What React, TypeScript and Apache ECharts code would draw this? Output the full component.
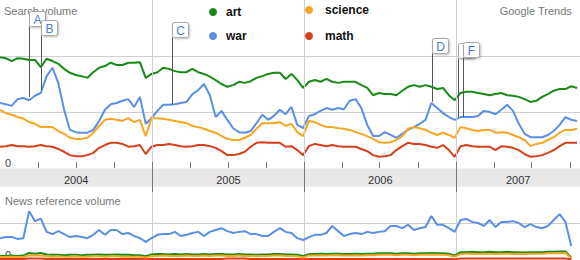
import React, { useEffect, useRef } from 'react';
import * as echarts from 'echarts';

const DAY = 86400000;
const START = Date.UTC(2004, 0, 1);
const END_DATE = '2007-10-25';
const STEP_DAYS = 14;
const FONT = 'Arial, "Liberation Sans", Helvetica, sans-serif';

const seriesNames = ['art', 'war', 'science', 'math'];
const seriesColors = ['#178a17', '#5b8ee6', '#f6a623', '#d4401b'];

// Search volume (relative units, gridlines at 1 and 2)
const searchArt = [
  1.98, 1.96, 1.91, 1.96, 1.95, 1.93, 1.93, 1.80, 1.95, 1.91,
  1.86, 1.77, 1.70, 1.66, 1.64, 1.61, 1.71, 1.79, 1.82, 1.88,
  1.84, 1.84, 1.88, 1.88, 1.89, 1.61, 1.68, 1.71, 1.79, 1.77,
  1.73, 1.71, 1.71, 1.77, 1.71, 1.68, 1.63, 1.57, 1.50, 1.45,
  1.48, 1.54, 1.52, 1.55, 1.61, 1.64, 1.68, 1.70, 1.70, 1.59,
  1.68, 1.57, 1.43, 1.54, 1.57, 1.54, 1.59, 1.54, 1.52, 1.54,
  1.54, 1.54, 1.48, 1.43, 1.30, 1.34, 1.32, 1.32, 1.30, 1.38,
  1.45, 1.48, 1.45, 1.48, 1.45, 1.41, 1.43, 1.30, 1.21, 1.34,
  1.36, 1.36, 1.34, 1.32, 1.30, 1.32, 1.34, 1.30, 1.29, 1.27,
  1.23, 1.18, 1.20, 1.27, 1.32, 1.38, 1.41, 1.41, 1.46, 1.43,
];
const searchWar = [
  1.16, 1.14, 1.11, 1.23, 1.25, 1.21, 1.29, 1.34, 1.64, 1.79,
  1.52, 1.04, 0.68, 0.64, 0.63, 0.63, 0.68, 0.84, 1.04, 1.14,
  1.16, 1.20, 1.23, 1.09, 1.27, 0.79, 0.89, 1.02, 1.13, 1.13,
  1.14, 1.16, 1.18, 1.32, 1.39, 1.50, 1.30, 0.91, 1.02, 0.86,
  0.71, 0.64, 0.63, 0.66, 0.80, 0.95, 0.86, 0.93, 1.04, 0.96,
  1.09, 0.77, 0.71, 0.93, 0.96, 1.02, 1.07, 1.04, 1.07, 1.05,
  1.20, 1.23, 1.07, 0.77, 0.57, 0.57, 0.64, 0.59, 0.54, 0.61,
  0.68, 0.73, 0.79, 0.86, 1.16, 1.07, 0.98, 0.91, 0.86, 0.91,
  0.91, 0.91, 0.93, 1.02, 1.00, 0.96, 1.04, 1.13, 1.02, 0.79,
  0.61, 0.55, 0.55, 0.55, 0.59, 0.66, 0.77, 0.91, 0.86, 0.84,
];
const searchScience = [
  1.04, 0.98, 0.95, 0.91, 0.88, 0.82, 0.79, 0.73, 0.73, 0.73,
  0.66, 0.61, 0.54, 0.52, 0.52, 0.54, 0.63, 0.75, 0.86, 0.88,
  0.86, 0.84, 0.89, 0.82, 0.86, 0.57, 0.89, 0.89, 0.88, 0.86,
  0.84, 0.82, 0.80, 0.75, 0.73, 0.70, 0.66, 0.63, 0.57, 0.52,
  0.50, 0.50, 0.54, 0.59, 0.70, 0.80, 0.80, 0.80, 0.82, 0.75,
  0.79, 0.64, 0.57, 0.84, 0.82, 0.77, 0.73, 0.73, 0.71, 0.70,
  0.68, 0.64, 0.61, 0.57, 0.52, 0.46, 0.45, 0.46, 0.50, 0.57,
  0.70, 0.73, 0.71, 0.68, 0.63, 0.59, 0.63, 0.59, 0.54, 0.73,
  0.71, 0.68, 0.66, 0.68, 0.68, 0.63, 0.64, 0.63, 0.59, 0.55,
  0.50, 0.39, 0.43, 0.45, 0.50, 0.55, 0.63, 0.68, 0.68, 0.70,
];
const searchMath = [
  0.38, 0.39, 0.41, 0.39, 0.39, 0.38, 0.39, 0.41, 0.39, 0.38,
  0.34, 0.29, 0.23, 0.21, 0.21, 0.23, 0.27, 0.36, 0.41, 0.45,
  0.45, 0.43, 0.38, 0.39, 0.41, 0.25, 0.38, 0.41, 0.41, 0.43,
  0.41, 0.39, 0.38, 0.39, 0.41, 0.41, 0.39, 0.36, 0.30, 0.23,
  0.23, 0.25, 0.29, 0.38, 0.45, 0.46, 0.45, 0.45, 0.45, 0.38,
  0.39, 0.32, 0.23, 0.39, 0.43, 0.41, 0.39, 0.41, 0.39, 0.38,
  0.38, 0.38, 0.34, 0.30, 0.23, 0.20, 0.21, 0.23, 0.32, 0.39,
  0.45, 0.43, 0.43, 0.41, 0.38, 0.36, 0.41, 0.32, 0.20, 0.39,
  0.41, 0.39, 0.38, 0.38, 0.38, 0.32, 0.39, 0.38, 0.36, 0.32,
  0.25, 0.20, 0.21, 0.23, 0.27, 0.32, 0.39, 0.45, 0.45, 0.45,
];

// News reference volume (gridline at 1)
const newsArt = [
  0.11, 0.11, 0.12, 0.11, 0.12, 0.19, 0.17, 0.19, 0.15, 0.14,
  0.14, 0.13, 0.14, 0.14, 0.13, 0.14, 0.14, 0.15, 0.14, 0.14,
  0.15, 0.14, 0.14, 0.13, 0.13, 0.10, 0.15, 0.16, 0.16, 0.15,
  0.16, 0.15, 0.16, 0.15, 0.15, 0.16, 0.15, 0.16, 0.16, 0.15,
  0.15, 0.16, 0.15, 0.15, 0.14, 0.15, 0.15, 0.16, 0.16, 0.15,
  0.15, 0.14, 0.11, 0.16, 0.16, 0.17, 0.16, 0.17, 0.17, 0.16,
  0.16, 0.17, 0.16, 0.17, 0.17, 0.18, 0.18, 0.18, 0.17, 0.18,
  0.18, 0.17, 0.18, 0.18, 0.19, 0.18, 0.18, 0.17, 0.12, 0.21,
  0.21, 0.22, 0.21, 0.21, 0.22, 0.21, 0.21, 0.22, 0.21, 0.21,
  0.20, 0.21, 0.21, 0.21, 0.22, 0.22, 0.23, 0.23, 0.06,
];
const newsWar = [
  0.59, 0.62, 0.62, 0.57, 0.59, 1.32, 1.05, 1.12, 0.76, 0.70,
  0.78, 0.70, 0.62, 0.65, 0.62, 0.59, 0.68, 0.81, 0.68, 0.81,
  0.81, 0.70, 0.73, 0.65, 0.59, 0.49, 0.59, 0.68, 0.70, 0.70,
  0.76, 0.65, 0.68, 0.73, 0.76, 0.65, 0.76, 0.81, 0.86, 0.78,
  0.73, 0.76, 0.78, 0.70, 0.70, 0.65, 0.65, 0.76, 0.86, 0.76,
  0.73, 0.59, 0.54, 0.62, 0.68, 0.68, 0.73, 0.92, 0.78, 0.65,
  0.70, 0.73, 0.70, 0.76, 0.73, 0.76, 0.78, 0.92, 0.92, 0.86,
  0.95, 0.81, 0.86, 0.89, 1.19, 0.95, 0.95, 0.86, 0.76, 1.08,
  1.11, 1.03, 1.00, 0.92, 1.08, 0.89, 1.03, 1.03, 1.05, 1.00,
  0.89, 0.97, 0.89, 0.86, 0.92, 1.08, 1.24, 1.03, 0.38,
];
const newsScience = [
  0.08, 0.08, 0.09, 0.08, 0.08, 0.13, 0.12, 0.12, 0.10, 0.09,
  0.10, 0.09, 0.09, 0.10, 0.09, 0.09, 0.10, 0.10, 0.09, 0.10,
  0.10, 0.09, 0.09, 0.09, 0.09, 0.07, 0.11, 0.11, 0.12, 0.11,
  0.11, 0.11, 0.12, 0.11, 0.11, 0.12, 0.11, 0.12, 0.12, 0.11,
  0.11, 0.12, 0.11, 0.11, 0.10, 0.11, 0.11, 0.12, 0.12, 0.11,
  0.11, 0.10, 0.07, 0.12, 0.12, 0.13, 0.12, 0.13, 0.13, 0.12,
  0.12, 0.13, 0.12, 0.13, 0.13, 0.14, 0.14, 0.14, 0.13, 0.14,
  0.14, 0.13, 0.14, 0.14, 0.15, 0.14, 0.14, 0.13, 0.09, 0.16,
  0.17, 0.17, 0.16, 0.17, 0.17, 0.16, 0.17, 0.17, 0.16, 0.17,
  0.16, 0.17, 0.17, 0.17, 0.18, 0.18, 0.18, 0.19, 0.04,
];
const newsMath = [
  0.03, 0.03, 0.03, 0.03, 0.03, 0.04, 0.04, 0.04, 0.03, 0.03,
  0.03, 0.03, 0.03, 0.03, 0.03, 0.03, 0.03, 0.03, 0.03, 0.03,
  0.03, 0.03, 0.03, 0.03, 0.03, 0.02, 0.03, 0.03, 0.03, 0.03,
  0.03, 0.03, 0.03, 0.03, 0.03, 0.03, 0.03, 0.03, 0.03, 0.04,
  0.04, 0.04, 0.04, 0.03, 0.03, 0.03, 0.03, 0.03, 0.03, 0.03,
  0.03, 0.03, 0.02, 0.03, 0.03, 0.03, 0.03, 0.03, 0.03, 0.03,
  0.03, 0.03, 0.03, 0.03, 0.03, 0.03, 0.03, 0.03, 0.03, 0.03,
  0.03, 0.03, 0.03, 0.03, 0.03, 0.03, 0.03, 0.03, 0.02, 0.04,
  0.04, 0.04, 0.04, 0.04, 0.04, 0.04, 0.04, 0.04, 0.04, 0.04,
  0.04, 0.04, 0.04, 0.04, 0.04, 0.04, 0.04, 0.04, 0.02,
];

const yearLabels = ['2004', '2005', '2006', '2007'];
const yearStarts = ['2004-01-01', '2005-01-01', '2006-01-01', '2007-01-01'];
const quarterTicks = [
  '2004-04-01', '2004-07-01', '2004-10-01', '2005-01-01',
  '2005-04-01', '2005-07-01', '2005-10-01', '2006-01-01',
  '2006-04-01', '2006-07-01', '2006-10-01', '2007-01-01',
  '2007-04-01', '2007-07-01', '2007-10-01',
];

const flagLetters = ['A', 'B', 'C', 'D', 'E', 'F'];
const flagDates = ['2004-03-11', '2004-04-08', '2005-02-17', '2006-11-04', '2007-01-05', '2007-01-17'];
const flagPointValues = [1.27, 1.39, 1.13, 1.18, 0.91, 0.91];
const flagBoxTops = [2.8, 2.64, 2.61, 2.32, 2.23, 2.25];

// days since 2004-01-01
const toDay = (s: string) => Math.round((Date.parse(s + 'T00:00:00Z') - START) / DAY);

export default function App() {
  const ref = useRef<HTMLDivElement>(null);

  useEffect(() => {
    if (!ref.current) return;
    const chart = echarts.init(ref.current, undefined, { renderer: 'svg' });

    const END = toDay(END_DATE);
    const sampleDays = searchArt.map((_, i) => i * STEP_DAYS);
    const searchData = [searchArt, searchWar, searchScience, searchMath];
    const newsData = [newsArt, newsWar, newsScience, newsMath];

    const yearStartDays = yearStarts.map(toDay);
    const yearMid = yearStartDays.map((s, i) => {
      const e = i + 1 < yearStartDays.length ? yearStartDays[i + 1] : END;
      return (s + e) / 2;
    });
    const yearBounds = yearStartDays.slice(1);
    const quarterDays = quarterTicks.map(toDay);

    const axisText = { fontFamily: FONT, fontSize: 11 };

    const lineSeries: any[] = [];
    seriesNames.forEach((name, k) => {
      lineSeries.push({
        name,
        type: 'line',
        xAxisIndex: 1,
        yAxisIndex: 0,
        data: searchData[k].map((v, i) => [sampleDays[i], v]),
        showSymbol: false,
        symbol: 'none',
        color: seriesColors[k],
        lineStyle: { width: 2, color: seriesColors[k] },
        z: 2,
      });
    });
    [0, 2, 3, 1].forEach((k) => {
      lineSeries.push({
        name: seriesNames[k],
        type: 'line',
        xAxisIndex: 2,
        yAxisIndex: 1,
        data: newsData[k].map((v, i) => [sampleDays[i], v]),
        showSymbol: false,
        symbol: 'none',
        color: seriesColors[k],
        lineStyle: { width: 2, color: seriesColors[k] },
        z: 2,
      });
    });

    const flagSeries = {
      type: 'custom',
      xAxisIndex: 1,
      yAxisIndex: 0,
      z: 10,
      silent: true,
      encode: { x: 0, y: [1, 2] },
      data: flagDates.map((d, i) => [toDay(d), flagPointValues[i], flagBoxTops[i]]),
      renderItem: (params: any, api: any) => {
        const x = api.value(0);
        const bottom = api.coord([x, api.value(1)]);
        const top = api.coord([x, api.value(2)]);
        const bx = Math.round(top[0]) + 0.5;
        const by = Math.round(top[1]) + 0.5;
        return {
          type: 'group',
          children: [
            {
              type: 'line',
              shape: { x1: bx, y1: by + 15, x2: bx, y2: bottom[1] },
              style: { stroke: '#555', lineWidth: 1 },
            },
            {
              type: 'rect',
              shape: { x: bx, y: by, width: 16, height: 15, r: 2 },
              style: {
                fill: '#fff',
                stroke: '#a8a8a8',
                lineWidth: 1,
                shadowBlur: 2,
                shadowOffsetX: 1,
                shadowOffsetY: 1,
                shadowColor: 'rgba(0,0,0,0.25)',
              },
            },
            {
              type: 'text',
              style: {
                text: flagLetters[params.dataIndex],
                x: bx + 8,
                y: by + 8,
                align: 'center',
                verticalAlign: 'middle',
                fill: '#4a7bd6',
                font: '12px ' + FONT,
              },
            },
          ],
        };
      },
    };

    const titleStyle = { fontSize: 11, fontWeight: 'normal', color: '#777', fontFamily: FONT };

    const baseX = { type: 'value', min: 0, max: END };

    chart.setOption({
      animation: false,
      backgroundColor: '#fff',
      title: [
        { text: 'Search volume', left: 4, top: 5, padding: 0, textStyle: titleStyle },
        { text: 'Google Trends', right: 8, top: 5, padding: 0, textStyle: titleStyle },
        { text: 'News reference volume', left: 5, top: 195, padding: 0, textStyle: titleStyle },
      ],
      legend: [
        {
          data: ['art', 'war'],
          orient: 'vertical',
          left: 209,
          top: 5,
          padding: 0,
          icon: 'circle',
          itemWidth: 8,
          itemHeight: 8,
          itemGap: 10,
          selectedMode: false,
          textStyle: { fontFamily: FONT, fontSize: 12, fontWeight: 'bold', color: '#111', lineHeight: 14, padding: [0, 0, 0, 4] },
        },
        {
          data: ['science', 'math'],
          orient: 'vertical',
          left: 305,
          top: 3,
          padding: 0,
          icon: 'circle',
          itemWidth: 8,
          itemHeight: 8,
          itemGap: 12,
          selectedMode: false,
          textStyle: { fontFamily: FONT, fontSize: 12, fontWeight: 'bold', color: '#111', lineHeight: 14, padding: [0, 0, 0, 7] },
        },
      ],
      grid: [
        { left: 0, top: 0, width: 580, height: 168 },
        { left: 0, top: 186, width: 580, height: 74 },
      ],
      xAxis: [
        {
          ...baseX, gridIndex: 0, position: 'bottom', z: 5,
          axisLine: { show: false },
          axisTick: { show: true, inside: true, length: 6, customValues: quarterDays, lineStyle: { color: '#777' } },
          axisLabel: { show: false },
          splitLine: { show: false },
        },
        {
          ...baseX, gridIndex: 0, position: 'bottom', z: 5,
          axisLine: { show: false },
          axisTick: { show: true, inside: false, length: 24, customValues: yearBounds, lineStyle: { color: '#777' } },
          axisLabel: {
            show: true, customValues: yearMid, margin: 6, color: '#333', ...axisText,
            formatter: (v: number) => yearLabels[yearMid.findIndex((m) => Math.abs(m - v) < 1)] || '',
          },
          splitLine: { show: true, lineStyle: { color: '#d0d0d0', width: 1 } },
        },
        {
          ...baseX, gridIndex: 1, position: 'top', z: 5,
          axisLine: { show: false },
          axisTick: { show: true, inside: true, length: 6, customValues: quarterDays, lineStyle: { color: '#777' } },
          axisLabel: { show: false },
          splitLine: { show: false },
        },
        {
          ...baseX, gridIndex: 1, position: 'top', z: 1,
          axisLine: { show: false },
          axisTick: { show: false, customValues: yearBounds },
          axisLabel: { show: false },
          splitLine: { show: true, lineStyle: { color: '#d0d0d0', width: 1 } },
        },
      ],
      yAxis: [
        {
          gridIndex: 0, type: 'value', min: 0, max: 3, interval: 1,
          axisLine: { show: false }, axisTick: { show: false },
          axisLabel: {
            inside: true, margin: 5, verticalAlign: 'bottom', color: '#444', ...axisText,
            formatter: (v: number) => (v === 0 ? '0' : ''),
          },
          splitLine: { show: true, showMinLine: false, showMaxLine: false, lineStyle: { color: '#cfcfcf' } },
        },
        {
          gridIndex: 1, type: 'value', min: 0, max: 2, interval: 1,
          axisLine: { show: false }, axisTick: { show: false },
          axisLabel: {
            inside: true, margin: 5, verticalAlign: 'bottom', color: '#444', ...axisText,
            formatter: (v: number) => (v === 0 ? '0' : ''),
          },
          splitLine: { show: true, showMinLine: false, showMaxLine: false, lineStyle: { color: '#cfcfcf' } },
        },
      ],
      graphic: [
        {
          type: 'rect',
          z: 1,
          silent: true,
          shape: { x: 0, y: 168.5, width: 580, height: 18 },
          style: { fill: '#e8e8e8' },
        },
      ],
      series: [...lineSeries, flagSeries],
    });

    return () => chart.dispose();
  }, []);

  return (
    <div
      ref={ref}
      style={{ position: 'absolute', left: 0, top: 0, width: 580, height: 260 }}
    />
  );
}
